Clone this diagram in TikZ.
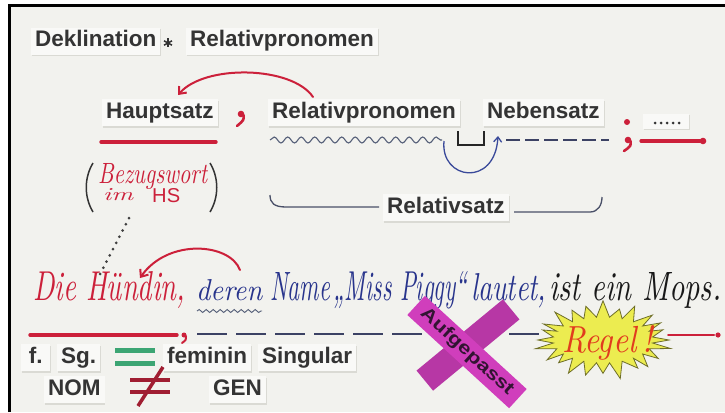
\documentclass[tikz,border=0pt]{standalone}
\usepackage[T1,TU]{fontenc}
\usepackage{fontspec}
\usepackage{graphicx}
\usetikzlibrary{decorations.pathmorphing,shadows,arrows.meta,calc}
\newfontfamily\cardfont{Liberation Sans}
\IfFileExists{t1qzc.fd}{\newcommand\handfont{\fontencoding{T1}\fontfamily{qzc}\fontseries{m}\fontshape{it}\selectfont}}{\newcommand\handfont{\itshape}}
\definecolor{bg}{RGB}{242,242,238}
\definecolor{cardbg}{RGB}{249,249,247}
\definecolor{cardsh}{RGB}{212,212,206}
\definecolor{txt}{RGB}{52,52,52}
\definecolor{redpen}{RGB}{204,32,58}
\definecolor{bluepen}{RGB}{40,52,140}
\definecolor{bluearr}{RGB}{58,74,154}
\definecolor{wavyc}{RGB}{85,95,120}
\definecolor{bracketc}{RGB}{74,80,104}
\definecolor{dashc}{RGB}{60,66,100}
\definecolor{greenbar}{RGB}{60,165,115}
\definecolor{neqc}{RGB}{160,30,50}
\definecolor{tape}{RGB}{208,62,188}
\definecolor{tapetext}{RGB}{50,20,50}
\definecolor{staryel}{RGB}{236,236,80}
\definecolor{starline}{RGB}{110,110,40}
\definecolor{regelred}{RGB}{225,60,30}
\tikzset{
  card/.style={font=\cardfont\bfseries\fontsize{22.5}{26}\selectfont, text=txt, fill=cardbg,
    inner xsep=4pt, inner ysep=3pt, text height=16pt, text depth=5pt, anchor=base west,
    drop shadow={shadow xshift=0.8pt, shadow yshift=-1.5pt, fill=cardsh, opacity=0.8}},
  hand/.style={anchor=base west, inner sep=0pt},
  redarrow/.style={draw=redpen, line width=2pt, line cap=round, -{Straight Barb[length=6pt,width=10pt]}},
  redline/.style={draw=redpen, line width=3.4pt, line cap=round},
  tapestrip/.style={fill=tape, inner sep=0pt, minimum height=26pt,
    font=\cardfont\bfseries, text=tapetext},
}
\begin{document}
\begin{tikzpicture}[x=1pt,y=-1pt]
\fill[white] (0,0) rectangle (725,412);
\useasboundingbox (0,0) rectangle (725,412);
\fill[bg] (9,5) rectangle (725,412);
\draw[line width=3.8pt, black] (9.5,412) -- (9.5,5.5) -- (725,5.5);

% title
\node[card] (dekl) at (31,47) {Deklination};
\coordinate (ast) at (168,43);
\draw[txt, line width=1.5pt] ($(ast)+(0,-4.5)$) -- ($(ast)+(0,4.5)$);
\draw[txt, line width=1.5pt] ($(ast)+(-4,-2.2)$) -- ($(ast)+(4,2.2)$);
\draw[txt, line width=1.5pt] ($(ast)+(-4,2.2)$) -- ($(ast)+(4,-2.2)$);
\node[card] (relpro1) at (186,47) {Relativpronomen};

% second row
\node[card] (haupt) at (102,118) {Hauptsatz};
\node[card] (relpro) at (268,118) {Relativpronomen};
\node[card] (neben) at (483,118) {Nebensatz};
\node[fill=cardbg, minimum width=46pt, minimum height=15pt, inner sep=0pt,
  drop shadow={shadow xshift=0.8pt, shadow yshift=-1.5pt, fill=cardsh, opacity=0.8}] (dotscard) at (666,121) {};
\foreach \k in {0,...,4} \fill[txt] (655+6*\k,123) circle (1.5);

\coordinate (a1s) at (313,97);
\coordinate (a1e) at (178,95);
\draw[redarrow] (a1s) .. controls (292,66) and (205,64) .. (a1e);

\draw[redline] (101,142) -- (216,142);
\fill[redpen] (241,114) circle (3.3);
\draw[redpen, line width=2.6pt, line cap=round] (243.5,115) .. controls (244,120) .. (237,126);

\draw[wavyc, line width=1.1pt, decorate, decoration={snake, segment length=13.5pt, amplitude=3pt}] (270,140) -- (442,140);
\coordinate (b1s) at (444,141);
\coordinate (b1e) at (498,136);
\draw[bluearr, line width=1.3pt, -{Straight Barb[length=5pt,width=8pt]}] (b1s) .. controls (440,180) and (495,188) .. (b1e);
\draw[line width=1.6pt, black!85] (458,131) -- (458,145) -- (484,145) -- (484,131);
\draw[dashc, line width=1.5pt, dash pattern=on 14pt off 5pt] (506,140) -- (609,140);

\fill[redpen] (627,122) circle (3);
\fill[redpen] (628,140) circle (3.3);
\draw[redpen, line width=2.6pt, line cap=round] (630.5,141) .. controls (631,146) .. (624,151);
\draw[redpen, line width=3.2pt, line cap=round] (641,141) -- (700,141);
\fill[redpen] (703,141) circle (3.3);

% Relativsatz bracket
\node[card] (relsatz) at (383,213) {Relativsatz};
\draw[bracketc, line width=1.3pt] (270,195) .. controls (270,203) and (274,207) .. (286,207) -- (379,207);
\draw[bracketc, line width=1.3pt] (514,212) -- (590,212) .. controls (598,212) and (602,205) .. (602,197);

% Bezugswort
\draw[black!80, line width=1.5pt] (93,163) .. controls (84,178) and (84,197) .. (93,212);
\draw[black!80, line width=1.5pt] (210,163) .. controls (219,178) and (219,197) .. (210,212);
\node[hand, text=redpen] (bezug) at (98,183) {\resizebox{109pt}{20pt}{\handfont Bezugswort}};
\node[hand, text=redpen] (im) at (103,200) {\resizebox{30pt}{12pt}{\handfont im}};
\node[hand, text=redpen] (hs) at (152,202) {\resizebox{28pt}{14pt}{\cardfont HS}};
\coordinate (d1) at (129,218);
\coordinate (d2) at (99,276);
\draw[black!75, line width=3pt, line cap=round, dash pattern=on 0pt off 7pt] (d1) -- (d2);

% arrow above Huendin
\coordinate (a2s) at (240,270);
\coordinate (a2e) at (140,278);
\draw[redarrow] (a2s) .. controls (230,243) and (168,238) .. (a2e);

% handwritten sentence
\node[hand, text=redpen] (hund) at (33,300) {\resizebox{152pt}{29pt}{\handfont Die H\"undin,}};
\node[hand, text=bluepen] (deren) at (196,300) {\resizebox{66pt}{21pt}{\handfont deren}};
\draw[wavyc, line width=0.9pt, decorate, decoration={snake, segment length=7pt, amplitude=1.5pt}] (197,311) -- (262,311);
\node[hand, text=bluepen] (name) at (270,300) {\resizebox{60pt}{28pt}{\handfont Name}};
\node[hand, text=bluepen] (miss) at (333,300) {\resizebox{134pt}{29pt}{\handfont\quotedblbase Miss Piggy\textquotedblleft}};
\node[hand, text=bluepen] (lautet) at (471,300) {\resizebox{75pt}{27pt}{\handfont lautet,}};
\node[hand, text=black!90] (mops) at (549,300) {\resizebox{172pt}{28pt}{\handfont ist ein Mops.}};

% bottom line
\draw[redline] (30,335) -- (177,335);
\fill[redpen] (184,335) circle (2.5);
\draw[redpen, line width=2pt, line cap=round] (186,336) .. controls (186,340) .. (182,343);
\draw[dashc, line width=1.5pt, dash pattern=on 30pt off 9pt] (197,334) -- (545,334);
\draw[redpen, line width=2pt, line cap=round] (668,335) -- (714,335);
\fill[redpen] (718,335) circle (2.6);

% Aufgepasst X
\node[tapestrip, fill=tape!88!black, rotate=39.5, minimum width=112pt] (strip2) at (468,345) {};
\node[tapestrip, rotate=-42.5, minimum width=138pt] (strip1) at (467,352) {\resizebox{120pt}{13pt}{Aufgepasst}};

% Regel star
\filldraw[fill=staryel, draw=starline, line width=0.8pt] (669,340)
  \foreach \i in {1,...,47}{ -- ({603+cos(\i*7.5)*(mod(\i,2)==0 ? 66+4*sin(\i*53) : 50)}, {340+sin(\i*7.5)*(mod(\i,2)==0 ? 36+4*cos(\i*71) : 23)}) } -- cycle;
\node[hand, text=regelred] (regel) at (562,352) {\resizebox{90pt}{27pt}{\handfont Regel\,!}};

% bottom cards
\node[card, minimum width=29pt] (f) at (21,363) {f.};
\node[card] (sg) at (57,363) {Sg.};
\draw[greenbar, line width=5pt] (115,350) -- (155,350);
\draw[greenbar, line width=5pt] (115,363) -- (155,363);
\node[card] (fem) at (163,363) {feminin};
\node[card] (sing) at (258,363) {Singular};
\node[card] (nom) at (44,395) {NOM};
\draw[neqc, line width=4pt] (130,380) -- (170,380);
\draw[neqc, line width=4pt] (130,392) -- (170,392);
\draw[neqc, line width=3.5pt] (138,406) -- (163,367);
\node[card] (gen) at (209,395) {GEN};
\end{tikzpicture}
\end{document}
